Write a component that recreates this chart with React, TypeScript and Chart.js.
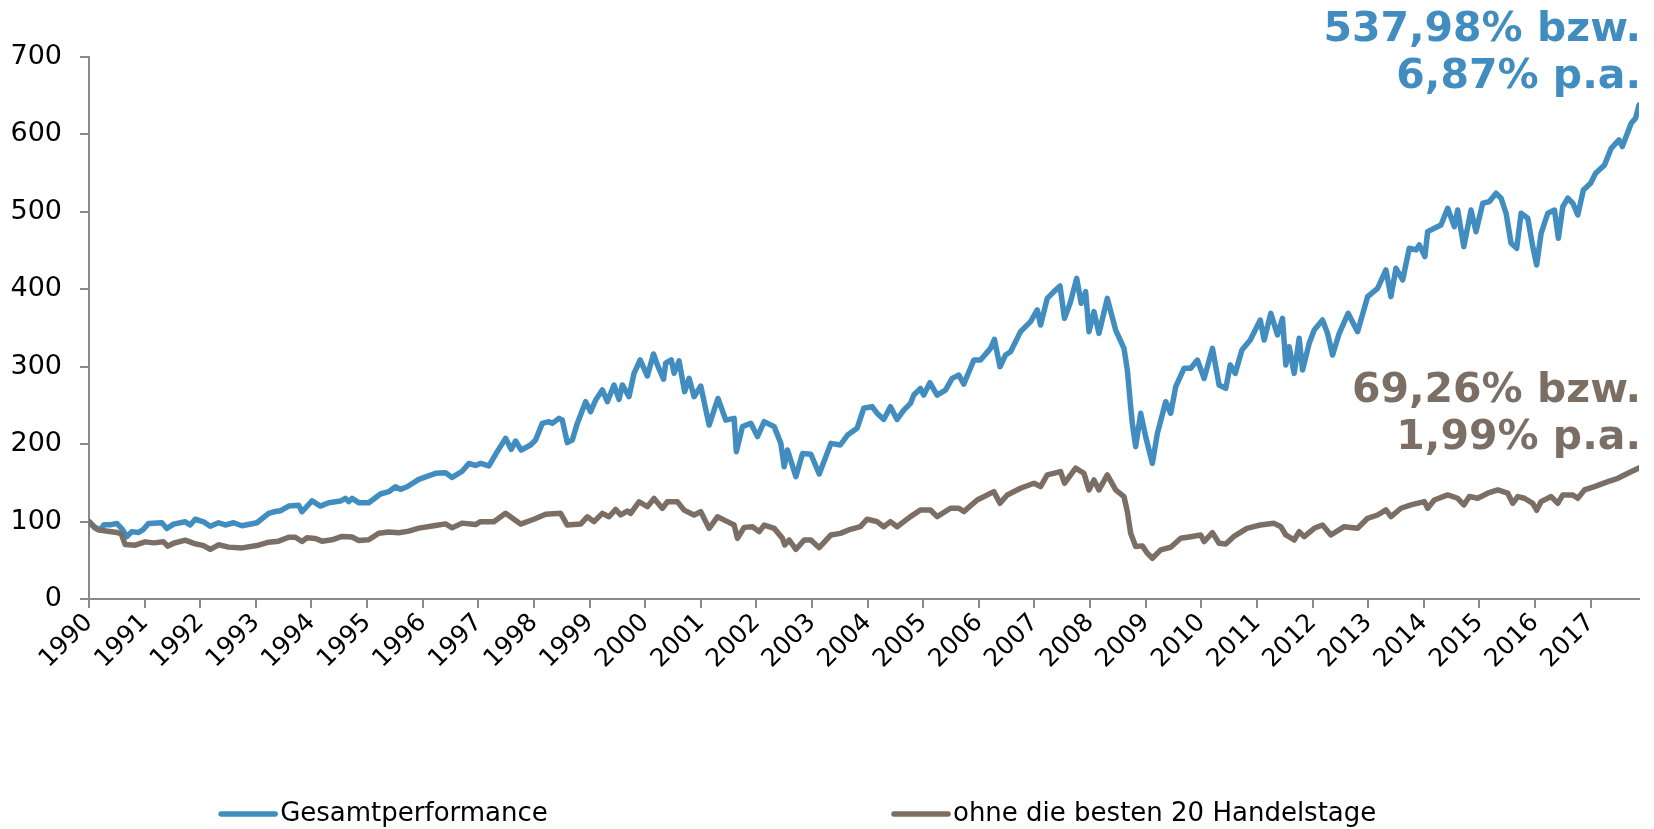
import React, { useEffect, useRef } from "react";
import Chart from "chart.js/auto";

const seriesNames = ["Gesamtperformance", "ohne die besten 20 Handelstage"];
const seriesColors = ["#428DBF", "#7B6F65"];
const annotations = [
  ["537,98% bzw.", "6,87% p.a."],
  ["69,26% bzw.", "1,99% p.a."],
];

const totalYears = [
  1990.0, 1990.1, 1990.2, 1990.27, 1990.4, 1990.5, 1990.6, 1990.68, 1990.77, 1990.89, 1990.98,
  1991.07, 1991.31, 1991.4, 1991.52, 1991.73, 1991.82, 1991.91, 1992.06, 1992.18, 1992.33,
  1992.45, 1992.6, 1992.75, 1993.02, 1993.23, 1993.35, 1993.44, 1993.59, 1993.77, 1993.83,
  1994.01, 1994.16, 1994.31, 1994.52, 1994.61, 1994.67, 1994.73, 1994.85, 1995.03, 1995.24,
  1995.39, 1995.51, 1995.6, 1995.72, 1995.93, 1996.23, 1996.41, 1996.53, 1996.71, 1996.83,
  1996.95, 1997.04, 1997.19, 1997.34, 1997.49, 1997.59, 1997.67, 1997.77, 1997.94, 1998.03,
  1998.15, 1998.27, 1998.33, 1998.45, 1998.51, 1998.6, 1998.69, 1998.78, 1998.93, 1999.02,
  1999.11, 1999.23, 1999.32, 1999.44, 1999.53, 1999.59, 1999.71, 1999.8, 1999.91, 2000.04,
  2000.15, 2000.22, 2000.33, 2000.37, 2000.47, 2000.52, 2000.61, 2000.71, 2000.79, 2000.88,
  2001.0, 2001.15, 2001.31, 2001.45, 2001.6, 2001.64, 2001.75, 2001.9, 2002.02, 2002.14,
  2002.32, 2002.44, 2002.5, 2002.56, 2002.71, 2002.83, 2002.98, 2003.13, 2003.34, 2003.51,
  2003.64, 2003.81, 2003.93, 2004.08, 2004.17, 2004.29, 2004.41, 2004.53, 2004.65, 2004.77,
  2004.83, 2004.95, 2005.01, 2005.12, 2005.25, 2005.4, 2005.52, 2005.64, 2005.73, 2005.91,
  2006.03, 2006.21, 2006.28, 2006.38, 2006.48, 2006.57, 2006.75, 2006.93, 2007.05, 2007.11,
  2007.23, 2007.35, 2007.46, 2007.54, 2007.64, 2007.76, 2007.84, 2007.92, 2007.98, 2008.07,
  2008.16, 2008.31, 2008.46, 2008.61, 2008.67, 2008.73, 2008.76, 2008.82, 2008.91, 2009.0,
  2009.12, 2009.21, 2009.36, 2009.45, 2009.54, 2009.69, 2009.81, 2009.93, 2010.05, 2010.2,
  2010.32, 2010.44, 2010.52, 2010.61, 2010.73, 2010.88, 2011.06, 2011.13, 2011.25, 2011.37,
  2011.46, 2011.52, 2011.58, 2011.67, 2011.76, 2011.82, 2011.94, 2012.03, 2012.18, 2012.27,
  2012.36, 2012.48, 2012.64, 2012.81, 2012.99, 2013.17, 2013.32, 2013.41, 2013.5, 2013.62,
  2013.74, 2013.86, 2013.92, 2014.02, 2014.07, 2014.19, 2014.31, 2014.43, 2014.55, 2014.61,
  2014.72, 2014.85, 2014.94, 2015.06, 2015.18, 2015.3, 2015.39, 2015.48, 2015.57, 2015.67,
  2015.75, 2015.87, 2015.96, 2016.03, 2016.11, 2016.23, 2016.35, 2016.42, 2016.5, 2016.59,
  2016.68, 2016.77, 2016.87, 2017.0, 2017.09, 2017.25, 2017.37, 2017.51, 2017.57, 2017.73,
  2017.81, 2017.87,
];
const totalValues = [
  100, 93, 89, 96, 96, 97.6, 90, 80.5, 87, 86, 90,
  97.6, 98.5, 91, 96.7, 99.7, 95.6, 103, 99.7, 94, 98.5,
  95.6, 98.5, 94.6, 98.5, 110.6, 113, 113.9, 120, 121, 112.7,
  126.9, 120, 124.4, 126.5, 130, 125.7, 130, 124.4, 124.4, 135.6,
  138.6, 145, 141.6, 145, 154.5, 162.3, 163, 157, 165, 175,
  172.5, 175.2, 171.8, 190.3, 207.5, 193.3, 204, 192.4, 198.9, 205.3,
  226.8, 229, 226.8, 233.3, 231.1, 202, 205.3, 226.8, 254.8, 241.9,
  257, 270, 254.8, 276.4, 257.9, 276.4, 261.3, 291.5, 308.7, 288,
  316.5, 302.3, 283.8, 304.5, 308.7, 291.5, 307.5, 267.8, 285, 261.3,
  275, 224.7, 259, 231, 233.3, 190.3, 222.6, 227, 209.8, 229,
  222.6, 201, 170.8, 192.4, 158, 188, 187, 161.4, 201, 198.9,
  211.8, 220.4, 246.3, 248.5, 240, 231.9, 248.4, 231.9, 244, 252.6,
  263.4, 272, 263.4, 279.3, 263.4, 269.8, 284.9, 289.2, 277.6, 308.6,
  308.6, 323.7, 335.3, 300, 315.1, 319.4, 345.3, 358.2, 373.3, 353.9,
  388.3, 397, 404.2, 362.4, 381.8, 414.1, 381.8, 397, 345.3, 371.1,
  343.1, 388.3, 347.4, 323.7, 295.7, 248.4, 226.8, 196.7, 239.8, 209.6,
  175.1, 213.9, 254.8, 239.8, 274.2, 297.9, 297.9, 308.6, 284.9, 323.7,
  276.3, 272, 302.2, 291.4, 321.6, 334.5, 360.3, 334.5, 368.9, 341,
  362.4, 302.2, 325.9, 291.4, 336.8, 295.7, 330.2, 347.4, 360.3, 343.1,
  315.1, 343.1, 368.9, 345.3, 390.5, 401.3, 425, 390.5, 427.1, 412.1,
  453, 450.8, 457.3, 442.2, 474.5, 478.8, 483.1, 504.6, 480.9, 502.4,
  455.1, 502.4, 474.5, 511.1, 513.3, 524, 517.6, 498.2, 459.4, 452.9,
  498.2, 491.8, 455.1, 431.4, 472.3, 498.2, 502.4, 465.8, 506.8, 517.6,
  511.1, 496, 528.3, 536.9, 549.8, 560.6, 582.1, 593, 584.3, 614.5,
  621, 638,
];

const withoutYears = [
  1990.0, 1990.1, 1990.18, 1990.5, 1990.58, 1990.65, 1990.83, 1991.01, 1991.16, 1991.34,
  1991.42, 1991.52, 1991.73, 1991.91, 1992.06, 1992.18, 1992.33, 1992.51, 1992.75, 1993.02,
  1993.23, 1993.41, 1993.59, 1993.71, 1993.83, 1993.92, 1994.07, 1994.19, 1994.37, 1994.55,
  1994.73, 1994.85, 1995.03, 1995.21, 1995.39, 1995.57, 1995.75, 1995.93, 1996.23, 1996.41,
  1996.53, 1996.71, 1996.95, 1997.04, 1997.28, 1997.49, 1997.76, 1998.0, 1998.21, 1998.48,
  1998.6, 1998.84, 1998.96, 1999.08, 1999.23, 1999.35, 1999.47, 1999.56, 1999.68, 1999.74,
  1999.89, 2000.04, 2000.16, 2000.31, 2000.4, 2000.58, 2000.7, 2000.88, 2001.0, 2001.15,
  2001.3, 2001.48, 2001.6, 2001.66, 2001.78, 2001.93, 2002.05, 2002.14, 2002.32, 2002.47,
  2002.51, 2002.59, 2002.71, 2002.86, 2002.98, 2003.13, 2003.34, 2003.51, 2003.69, 2003.87,
  2003.99, 2004.05, 2004.17, 2004.29, 2004.41, 2004.53, 2004.77, 2004.95, 2005.13, 2005.25,
  2005.49, 2005.64, 2005.73, 2005.97, 2006.27, 2006.38, 2006.51, 2006.75, 2006.99, 2007.11,
  2007.23, 2007.47, 2007.54, 2007.74, 2007.89, 2007.98, 2008.07, 2008.16, 2008.31, 2008.46,
  2008.61, 2008.67, 2008.73, 2008.82, 2008.94, 2009.03, 2009.12, 2009.27, 2009.45, 2009.63,
  2009.81, 2009.99, 2010.05, 2010.2, 2010.32, 2010.44, 2010.58, 2010.82, 2011.06, 2011.31,
  2011.43, 2011.52, 2011.67, 2011.76, 2011.85, 2012.03, 2012.18, 2012.33, 2012.57, 2012.81,
  2012.99, 2013.17, 2013.32, 2013.41, 2013.59, 2013.77, 2014.01, 2014.07, 2014.19, 2014.43,
  2014.61, 2014.72, 2014.82, 2014.97, 2015.15, 2015.33, 2015.51, 2015.6, 2015.69, 2015.81,
  2015.96, 2016.03, 2016.11, 2016.29, 2016.41, 2016.5, 2016.68, 2016.77, 2016.89, 2017.07,
  2017.31, 2017.49, 2017.67, 2017.87,
];
const withoutValues = [
  100, 92, 89, 86, 84, 70.4, 69.5, 73.8, 72.5, 73.8,
  68.2, 72, 76, 71.3, 69, 64, 70, 67, 66, 69,
  73.4, 74.7, 79.8, 79.8, 74.3, 79, 78.2, 74.7, 76.5, 80.8,
  80, 75.6, 76.5, 85, 86.4, 85.6, 87.7, 91.5, 95, 97,
  92, 98, 96.2, 99.9, 99.9, 110.6, 96.8, 103, 109.4, 110.6,
  95.5, 96.8, 106.2, 99.9, 110.6, 106.2, 115.7, 108.5, 113.5, 110.6,
  125.6, 119.2, 129.9, 117, 125.6, 125.6, 114.8, 108.5, 112.7, 91.2,
  106.2, 99.9, 95.5, 78.3, 92.5, 93.4, 87, 95.5, 91.2, 78.3,
  69.7, 76.2, 64.2, 76.2, 76.2, 66.3, 82.7, 84.8, 90, 93.4,
  103, 102, 99.9, 93.4, 99.9, 93.4, 106.4, 115, 115, 106.4,
  117.2, 117.2, 112.9, 127.9, 138.7, 123.6, 134.4, 143, 149.5, 145.2,
  160.3, 164.6, 149.5, 168.9, 162.4, 140.9, 153.8, 140.9, 160.3, 140.9,
  132.3, 112.9, 84.9, 67.7, 68.6, 59.1, 52.6, 63.4, 66.8, 78.4,
  80.5, 82.7, 74.1, 85.7, 71.9, 71.1, 80.5, 91.3, 95.6, 97.7,
  93.4, 82.7, 76.2, 86.9, 80.5, 91.3, 95.6, 82.7, 93.4, 91.3,
  104.2, 108.5, 115, 106.4, 117.2, 121.5, 125.8, 117.2, 127.9, 134.4,
  130.1, 121.5, 132.3, 130.1, 136.6, 140.9, 136.6, 123.6, 132.3, 130.1,
  123.6, 114.6, 125.8, 132.3, 123.6, 134.4, 134.4, 130.1, 140.9, 145.2,
  151.6, 155.9, 162.4, 169.3,
];

const xMin = 1990;
const xMax = 2017.87;
const yMin = 0;
const yMax = 700;
const yStep = 100;

const FONT = "'DejaVu Sans', Verdana, sans-serif";
const AXIS_COLOR = "#8A8A8A";

const overlayPlugin = {
  id: "overlay",
  afterDraw(chart: any) {
    const ctx = chart.ctx;
    const area = chart.chartArea;
    const W = chart.width;
    ctx.save();
    ctx.font = `bold 41px ${FONT}`;
    ctx.textAlign = "right";
    ctx.textBaseline = "alphabetic";
    const rightX = area.right + 2;
    const annTops = [41, 402];
    annotations.forEach((lines, i) => {
      ctx.fillStyle = seriesColors[i];
      lines.forEach((t, j) => ctx.fillText(t, rightX, annTops[i] + j * 47));
    });
    const legY = 814;
    const starts = [W * 0.1337, W * 0.5405];
    ctx.font = `26px ${FONT}`;
    ctx.textAlign = "left";
    ctx.textBaseline = "middle";
    seriesNames.forEach((name, i) => {
      const x0 = starts[i];
      ctx.strokeStyle = seriesColors[i];
      ctx.lineWidth = 5.5;
      ctx.lineCap = "round";
      ctx.beginPath();
      ctx.moveTo(x0, legY);
      ctx.lineTo(x0 + 54, legY);
      ctx.stroke();
      ctx.fillStyle = "#000";
      ctx.fillText(name, x0 + 59, legY);
    });
    ctx.restore();
  },
};

export default function App() {
  const ref = useRef<HTMLCanvasElement>(null);
  useEffect(() => {
    if (!ref.current) return;
    const toPoints = (xs: number[], ys: number[]) => xs.map((x, i) => ({ x, y: ys[i] }));
    const chart = new Chart(ref.current, {
      type: "line",
      data: {
        datasets: [
          {
            label: seriesNames[0],
            data: toPoints(totalYears, totalValues),
            borderColor: seriesColors[0],
            backgroundColor: seriesColors[0],
            borderWidth: 5.5,
            pointRadius: 0,
            tension: 0,
            borderJoinStyle: "round",
            borderCapStyle: "round",
            order: 1,
          },
          {
            label: seriesNames[1],
            data: toPoints(withoutYears, withoutValues),
            borderColor: seriesColors[1],
            backgroundColor: seriesColors[1],
            borderWidth: 5.5,
            pointRadius: 0,
            tension: 0,
            borderJoinStyle: "round",
            borderCapStyle: "round",
            order: 0,
          },
        ],
      },
      options: {
        animation: false,
        responsive: false,
        devicePixelRatio: 1,
        layout: { padding: { top: 57, right: 15, left: 0, bottom: 0 } },
        plugins: { legend: { display: false }, tooltip: { enabled: false } },
        scales: {
          x: {
            type: "linear",
            min: xMin,
            max: xMax,
            afterFit: (s: any) => {
              s.height = 230;
            },
            ticks: {
              stepSize: 1,
              autoSkip: false,
              includeBounds: false,
              maxRotation: 45,
              minRotation: 45,
              padding: 0,
              color: "#000",
              font: { family: FONT, size: 25 },
              callback: (v: any) => String(v),
            },
            grid: { drawOnChartArea: false, drawTicks: true, tickLength: 9, color: AXIS_COLOR, lineWidth: 2 },
            border: { display: true, color: AXIS_COLOR, width: 2 },
          },
          y: {
            min: yMin,
            max: yMax,
            afterFit: (s: any) => {
              s.width = 89;
            },
            ticks: {
              stepSize: yStep,
              padding: 18,
              color: "#000",
              font: { family: FONT, size: 27 },
            },
            grid: { drawOnChartArea: false, drawTicks: true, tickLength: 9, color: AXIS_COLOR, lineWidth: 2 },
            border: { display: true, color: AXIS_COLOR, width: 2 },
          },
        },
      },
      plugins: [overlayPlugin],
    });
    return () => chart.destroy();
  }, []);
  return (
    <div style={{ position: "fixed", left: 0, top: 0, width: 1654, height: 829, background: "#fff" }}>
      <canvas ref={ref} width={1654} height={829} style={{ width: 1654, height: 829 }} />
    </div>
  );
}
